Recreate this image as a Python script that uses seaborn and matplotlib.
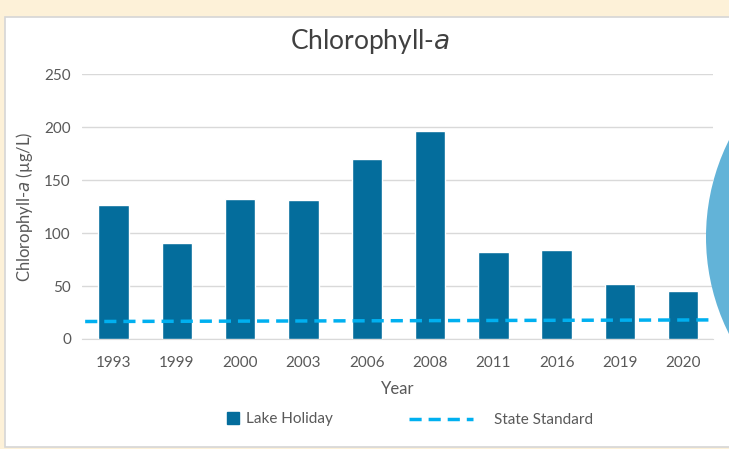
import seaborn as sns
import matplotlib.pyplot as plt
import matplotlib.patches as mpatches
from matplotlib.lines import Line2D
import pandas as pd

# data
years = ["1993", "1999", "2000", "2003", "2006", "2008", "2011", "2016", "2019", "2020"]
chl_a = [126, 91, 132, 131, 170, 196, 82, 84, 52, 45]
state_standard = [16.5, 18]  # dashed line, start / end value

df = pd.DataFrame({"Year": years, "Chl": chl_a})

sns.set_style("white")
plt.rcParams["font.family"] = ["Lato", "DejaVu Sans"]

fig = plt.figure(figsize=(7.29, 4.49), dpi=100)
fig.patch.set_facecolor("#FDF1D8")

# white panel + decorative circle
fig.add_artist(mpatches.Rectangle((5 / 729, 2 / 449), 730 / 729, 430 / 449, transform=fig.transFigure,
                                  facecolor="white", edgecolor="#D6D6D6", lw=1.2, zorder=0))
fig.add_artist(mpatches.Ellipse((922 / 729, 1 - 237 / 449), 432 / 729, 432 / 449, transform=fig.transFigure,
                                facecolor="#62B3D8", edgecolor="none", zorder=5))

ax = fig.add_axes([82 / 729, 1 - 339 / 449, 631 / 729, 265 / 449])
ax.set_facecolor("none")
sns.barplot(data=df, x="Year", y="Chl", color="#046D9C", width=0.48, saturation=1, ax=ax, zorder=3)
ax.plot([-0.45, 9.4], state_standard, color="#00B0F0", lw=2.5, dashes=(3.5, 2), zorder=4)

ax.set_xlim(-0.5, 9.47)
ax.set_ylim(0, 250)
ax.set_yticks([0, 50, 100, 150, 200, 250])
ax.grid(axis="y", color="#D9D9D9", lw=1, zorder=0)
for s in ["top", "right", "left"]:
    ax.spines[s].set_visible(False)
ax.spines["bottom"].set_color("#D9D9D9")
ax.tick_params(axis="both", length=0, labelsize=11, labelcolor="#595959", pad=8)
ax.tick_params(axis="x", pad=12)

ax.set_xlabel("Year", fontsize=12, color="#595959", labelpad=8)
ax.set_ylabel("Chlorophyll-$\\mathit{a}$ (µg/L)", fontsize=12, color="#595959", labelpad=7)
fig.text(370 / 729, 1 - 42 / 449, "Chlorophyll-$\\mathit{a}$", fontsize=19, color="#404040",
         ha="center", va="center")

# legend, two parts so the square and the dashed line get their own widths
h1 = [Line2D([], [], color="#046D9C", marker="s", ls="none", markersize=8, label="Lake Holiday")]
h2 = [Line2D([], [], color="#00B0F0", lw=2.5, dashes=(3.5, 2), label="State Standard")]
fig.legend(handles=h1, loc="center left", bbox_to_anchor=(212 / 729, 1 - 419 / 449),
           frameon=False, fontsize=11, labelcolor="#595959", handlelength=1, handletextpad=0.3)
fig.legend(handles=h2, loc="center left", bbox_to_anchor=(395 / 729, 1 - 420 / 449),
           frameon=False, fontsize=11, labelcolor="#595959", handlelength=4.2, handletextpad=1.4)

plt.savefig("out.png", dpi=100)
